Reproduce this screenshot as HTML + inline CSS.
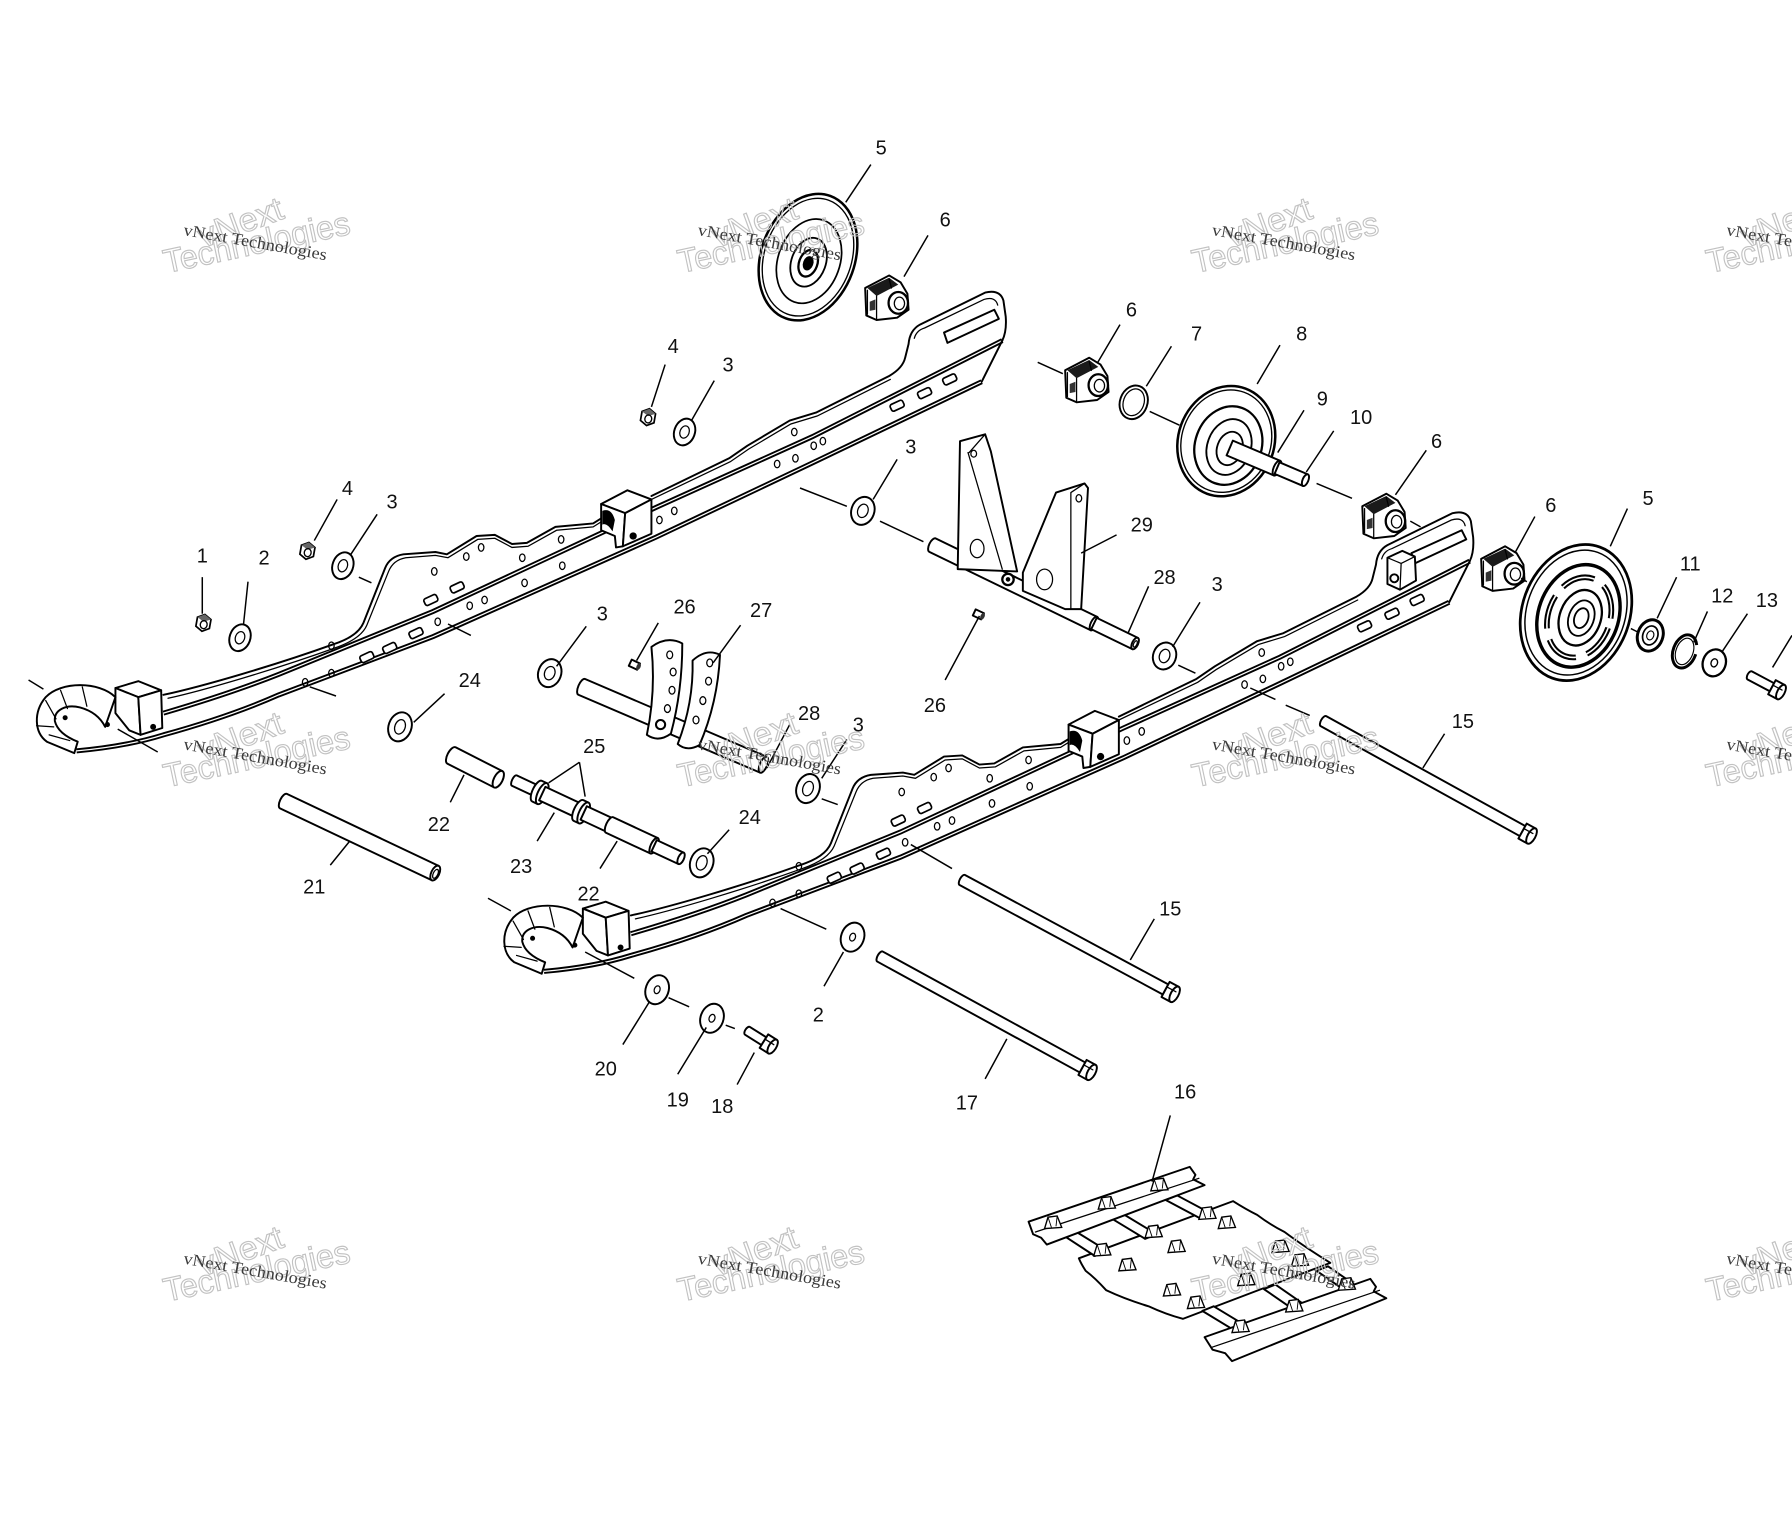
<!DOCTYPE html>
<html><head><meta charset="utf-8">
<style>
html,body{margin:0;padding:0;background:#fff;}
svg{display:block;}
.l{fill:none;stroke:#000;stroke-width:1.7;stroke-linecap:round;stroke-linejoin:round}
.t{fill:none;stroke:#000;stroke-width:1.1;stroke-linecap:round}
.ld{stroke:#000;stroke-width:1.3;fill:none}
.w{fill:#fff;stroke:#000;stroke-width:1.7;stroke-linejoin:round}
.lab{font-family:"Liberation Sans",Arial,sans-serif;font-size:17.5px;fill:#111;text-anchor:middle}
.ws{font-family:"Liberation Serif",serif;font-size:14.5px;fill:#3a3a3a}
.wb{font-family:"Liberation Sans",sans-serif;font-size:29px;fill:none;stroke:#c2c2c2;stroke-width:1}
</style></head><body>
<svg width="1792" height="1536" viewBox="0 0 1568 1344" xmlns="http://www.w3.org/2000/svg">
<rect width="1568" height="1344" fill="#fff"/>
<defs>
<g id="rail">
 <path d="M552,817 Q610,800 653,783 L788,728 L983,637 L1120,575 L1286,491" fill="none" stroke="#000" stroke-width="4.4"/>
 <path d="M552,817 Q610,800 653,783 L788,728 L983,637 L1120,575 L1286,491" fill="none" stroke="#fff" stroke-width="1.1"/>
 <path d="M476,850 Q520,846 552,836 Q610,820 653,801 L788,750 L983,663 L1120,598 L1268,527" fill="none" stroke="#000" stroke-width="4.4"/>
 <path d="M476,850 Q520,846 552,836 Q610,820 653,801 L788,750 L983,663 L1120,598 L1268,527" fill="none" stroke="#fff" stroke-width="1.1"/>
 <path class="l" d="M1286,491 L1268,527"/>
 <path class="l" d="M552,801 C585,794 650,775 700,757 Q722,750 727,738 L746,690 Q750,680 762,678 L790,676 L800,678 L826,662 L842,661 L857,669 L870,668 L895,654 L928,651 L936,646"/>
 <path class="t" d="M556,804 C588,797 652,778 702,760 Q725,752 730,740 L749,693 Q753,683 764,681 L790,679 L801,681 L827,665 L842,664 L857,672 L871,671 L896,657 L928,654 L936,649"/>
 <path class="l" d="M979,627 L1047,594 L1063,583 L1100,561 L1123,554 L1187,522 Q1199,515 1201,506 L1204,494 Q1205,482 1214,477 L1271,449 Q1284,446 1287,456 L1289,470 Q1290,483 1286,491"/>
 <path class="t" d="M979,630 L1048,597 L1064,586 L1101,564 L1124,557 L1188,525"/>
 <path class="l" d="M1235,484 L1279,464 L1283,472 L1238,493 Z"/>
 <path class="t" d="M1209,489 Q1211,482 1218,480 L1270,455 Q1280,452 1282,460"/>
 <g fill="none" stroke="#000" stroke-width="1.1">
  <ellipse cx="699" cy="758" rx="2.4" ry="3.3"/><ellipse cx="676" cy="790" rx="2.4" ry="3.3"/><ellipse cx="699" cy="782" rx="2.4" ry="3.3"/>
  <ellipse cx="789" cy="693" rx="2.4" ry="3.3"/><ellipse cx="817" cy="680" rx="2.4" ry="3.3"/><ellipse cx="830" cy="672" rx="2.4" ry="3.3"/>
  <ellipse cx="866" cy="681" rx="2.4" ry="3.3"/><ellipse cx="900" cy="665" rx="2.4" ry="3.3"/><ellipse cx="901" cy="688" rx="2.4" ry="3.3"/>
  <ellipse cx="868" cy="703" rx="2.4" ry="3.3"/><ellipse cx="833" cy="718" rx="2.4" ry="3.3"/><ellipse cx="820" cy="723" rx="2.4" ry="3.3"/>
  <ellipse cx="792" cy="737" rx="2.4" ry="3.3"/><ellipse cx="986" cy="648" rx="2.4" ry="3.3"/><ellipse cx="999" cy="640" rx="2.4" ry="3.3"/>
  <ellipse cx="1104" cy="571" rx="2.4" ry="3.3"/><ellipse cx="1121" cy="583" rx="2.4" ry="3.3"/><ellipse cx="1129" cy="579" rx="2.4" ry="3.3"/>
  <ellipse cx="1105" cy="594" rx="2.4" ry="3.3"/><ellipse cx="1089" cy="599" rx="2.4" ry="3.3"/>
 </g>
 <g fill="#fff" stroke="#000" stroke-width="1.5">
  <rect x="-6" y="-3.2" width="12" height="6.4" rx="2" transform="translate(730,768) rotate(-25)"/>
  <rect x="-6" y="-3.2" width="12" height="6.4" rx="2" transform="translate(750,760) rotate(-25)"/>
  <rect x="-6" y="-3.2" width="12" height="6.4" rx="2" transform="translate(773,747) rotate(-25)"/>
  <rect x="-6" y="-3.2" width="12" height="6.4" rx="2" transform="translate(786,718) rotate(-25)"/>
  <rect x="-6" y="-3.2" width="12" height="6.4" rx="2" transform="translate(809,707) rotate(-25)"/>
  <rect x="-6" y="-3.2" width="12" height="6.4" rx="2" transform="translate(1194,548) rotate(-25)"/>
  <rect x="-6" y="-3.2" width="12" height="6.4" rx="2" transform="translate(1218,537) rotate(-25)"/>
  <rect x="-6" y="-3.2" width="12" height="6.4" rx="2" transform="translate(1240,525) rotate(-25)"/>
 </g>
 <path class="w" d="M935,634 L958,622 L979,630 L956,642 Z"/>
 <path class="w" d="M935,634 L956,642 L954,671 L948,672 L947,662 L935,657 Z"/>
 <path class="w" d="M956,642 L979,630 L979,660 L954,671 Z"/>
 <path d="M936,640 Q944,637 947,648 L945,658 Q940,650 936,652 Z" fill="#000"/>
 <circle cx="963" cy="662" r="3.2" fill="#000"/>
 <path class="w" d="M510,795 L530,789 L550,797 L530,803 Z"/>
 <path class="w" d="M510,795 L530,803 L532,836 L522,832 L510,817 Z"/>
 <path class="w" d="M530,803 L550,797 L551,830 L532,836 Z"/>
 <circle cx="543" cy="829" r="2.6" fill="#000"/>
 <path class="w" d="M510,803 C496,789 462,789 449,803 C438,816 439,834 450,842 L474,852 L477,842 C467,838 459,832 457,824 C456,814 467,809 479,812 C490,815 497,821 501,829 Z"/>
 <path class="t" d="M462,797 L468,813 M481,794 L485,811 M449,806 L458,822 M441,828 L456,829 M452,836 L470,841"/>
 <circle cx="466" cy="821" r="2.2" fill="#000"/>
 <circle cx="503" cy="827" r="2.2" fill="#000"/>
</g>
<g id="b6">
 <path class="w" d="M3,12 L24,1 L34,7 L40,17 L41,31 L31,38 L13,40 L4,36 Z"/>
 <path d="M5,12 L24,3 L32,9 L13,19 Z" fill="#1a1a1a"/>
 <path class="t" d="M13,19 L13,39 M5,14 L5,35 M24,4 L26,12"/>
 <path d="M7,24 L12,22 L12,31 L7,32 Z" fill="#333"/>
 <ellipse cx="32" cy="25" rx="8.5" ry="9.5" fill="#fff" stroke="#000" stroke-width="2"/>
 <ellipse cx="33" cy="25.5" rx="4.5" ry="5.5" fill="none" stroke="#000" stroke-width="1.1"/>
</g>
<g id="lug">
 <path d="M-7,5 L-4,-5 L4,-6 L8,4 Z" fill="#fff" stroke="#000" stroke-width="1.2"/>
 <path d="M-4,-5 L-1,4 M4,-6 L3,3" stroke="#000" stroke-width="0.8" fill="none"/>
</g>
<g id="nut">
 <polygon points="-6,-4 0,-7.5 6,-4 6,4 0,7.5 -6,4" fill="#fff" stroke="#000" stroke-width="1.5"/>
 <polygon points="-6,-4 0,-7.5 6,-4 0,-1" fill="#666"/>
 <ellipse cx="0.5" cy="1.5" rx="3" ry="3.5" fill="none" stroke="#000" stroke-width="1.2"/>
</g>
</defs>

<!-- Rails -->
<use href="#rail" transform="translate(-409,-193)"/>
<use href="#rail"/>
<!-- rear stud rail B -->
<path class="w" d="M1214,488 L1227,482 L1238,487 L1239,508 L1225,516 L1214,511 Z"/>
<path class="t" d="M1214,488 L1226,493 L1238,487 M1226,493 L1225,516"/>
<circle cx="1220" cy="506" r="3.5" class="w"/>

<!-- Wheel 5 top -->
<g transform="translate(707,225) rotate(20)" fill="none" stroke="#000">
 <ellipse rx="41" ry="57" fill="#fff" stroke-width="2.2"/>
 <ellipse rx="38" ry="53" stroke-width="1.2"/>
 <ellipse cx="2" cy="3" rx="27" ry="38" stroke-width="1.5"/>
 <ellipse cx="2" cy="4" rx="15" ry="22" stroke-width="1.6"/>
 <ellipse cx="2" cy="5" rx="8" ry="12" stroke-width="2"/>
 <ellipse cx="2" cy="5" rx="4" ry="6" fill="#000"/>
</g>
<use href="#b6" x="754" y="240"/>

<!-- Wheel 8 + shaft 9/10 -->
<g transform="translate(1073,386) rotate(20)" fill="none" stroke="#000">
 <ellipse rx="42" ry="49" fill="#fff" stroke-width="2.2"/>
 <ellipse rx="39" ry="45.5" stroke-width="1.2"/>
 <ellipse cx="3" cy="3" rx="29" ry="35" stroke-width="2"/>
 <ellipse cx="4" cy="4" rx="19" ry="25" stroke-width="1.6"/>
 <ellipse cx="5" cy="5" rx="11" ry="15" stroke-width="1.6"/>
</g>
<g transform="translate(1076,392) rotate(23)">
 <path class="w" d="M0,-7 L45,-7 L45,7 L0,7 Z"/>
 <ellipse class="w" cx="45" cy="0" rx="3" ry="7"/>
 <path class="w" d="M45,-5.5 L72,-5.5 L72,5.5 L45,5.5 Z"/>
 <ellipse class="w" cx="72" cy="0" rx="2.5" ry="5.5"/>
</g>
<ellipse class="w" cx="992" cy="352" rx="12" ry="15" transform="rotate(20 992 352)"/>
<ellipse class="t" cx="992" cy="352" rx="9" ry="12" transform="rotate(20 992 352)"/>
<use href="#b6" x="929" y="312"/>
<use href="#b6" x="1189" y="431"/>

<!-- Wheel 5 right -->
<g transform="translate(1379,536) rotate(20)" fill="none" stroke="#000">
 <ellipse rx="47" ry="61" fill="#fff" stroke-width="2.4"/>
 <ellipse rx="43" ry="56" stroke-width="1.3"/>
 <ellipse cx="3" cy="2" rx="35" ry="46" stroke-width="3"/>
 <ellipse cx="4" cy="3" rx="27" ry="36" stroke-width="5" stroke-dasharray="30 10"/>
 <ellipse cx="4" cy="3" rx="27" ry="36" stroke="#fff" stroke-width="1.4" stroke-dasharray="30 10"/>
 <ellipse cx="5" cy="3" rx="18" ry="25" stroke-width="2"/>
 <ellipse cx="6" cy="3" rx="11" ry="16" stroke-width="1.6"/>
 <ellipse cx="6" cy="3" rx="6" ry="9" stroke-width="1.6"/>
</g>
<use href="#b6" x="1293" y="477"/>
<!-- bearing 11, ring 12, washer 13, bolt -->
<g transform="translate(1444,556) rotate(20)">
 <ellipse rx="11" ry="14" fill="#fff" stroke="#000" stroke-width="2.6"/>
 <ellipse rx="6.5" ry="8.5" fill="none" stroke="#000" stroke-width="1.5"/>
 <ellipse rx="3" ry="4" fill="none" stroke="#000" stroke-width="1"/>
</g>
<g transform="translate(1474,570) rotate(20)">
 <ellipse rx="10" ry="15" fill="none" stroke="#000" stroke-width="2.6" stroke-dasharray="70 8"/>
 <ellipse rx="7.5" ry="12" fill="none" stroke="#000" stroke-width="1"/>
</g>
<g transform="translate(1500,580) rotate(20)">
 <ellipse rx="10" ry="12" fill="#fff" stroke="#000" stroke-width="2"/>
 <ellipse rx="2.8" ry="3.6" fill="none" stroke="#000" stroke-width="1.2"/>
</g>
<g transform="translate(1531,591) rotate(28)">
 <path class="w" d="M0,-4 L22,-4 L22,4 L0,4 A2,4 0 0 1 0,-4 Z"/>
 <path class="w" d="M22,-7 L31,-7 L31,7 L22,7 Z"/>
 <ellipse class="w" cx="31" cy="0" rx="3.2" ry="7"/>
 <path class="t" d="M22,-2 L31,-2"/>
</g>

<!-- Part 29 assembly with tube 28 -->
<g transform="translate(816,477) rotate(25.9)">
 <path class="w" d="M0,-6.5 L157,-6.5 L157,6.5 L0,6.5 A3,6.5 0 0 1 0,-6.5 Z"/>
 <ellipse class="w" cx="157" cy="0" rx="2.8" ry="6.5"/>
 <path class="w" d="M157,-5.5 L197,-5.5 L197,5.5 L157,5.5 Z"/>
 <ellipse class="w" cx="197" cy="0" rx="2.6" ry="5.5"/>
 <ellipse class="t" cx="197.3" cy="0.3" rx="1.4" ry="3"/>
</g>
<path class="w" d="M840,386 L862,380 L867,395 L890,500 L838,498 Z"/>
<path class="t" d="M847,396 L877,498 M862,380 L848,396"/>
<ellipse class="t" cx="855" cy="480" rx="6" ry="8"/>
<ellipse class="t" cx="852" cy="397" rx="2.5" ry="3"/>
<path class="w" d="M924,431 L949,423 L952,427 L946,533 L932,533 L895,517 L895,501 Z"/>
<path class="t" d="M937,431 L937,533 M949,423 L937,431"/>
<ellipse class="t" cx="914" cy="507" rx="7" ry="9"/>
<ellipse class="t" cx="944" cy="436" rx="2.5" ry="3.2"/>
<circle cx="882" cy="507" r="5" fill="#fff" stroke="#000" stroke-width="2"/>
<circle cx="882" cy="507" r="2" fill="#000"/>

<!-- Tube 27 with plates -->
<g transform="translate(509,601) rotate(23.2)">
 <path class="w" d="M0,-7.5 L173,-7.5 L173,7.5 L0,7.5 A3,7.5 0 0 1 0,-7.5 Z"/>
 <ellipse class="w" cx="173" cy="0" rx="3.2" ry="7.5"/>
</g>
<path class="w" d="M570,566 Q584,556 597,563 Q597,605 587,642 Q576,650 566,643 Q574,605 570,566 Z"/>
<path class="w" d="M606,578 Q618,567 630,573 Q628,615 612,652 Q601,658 593,651 Q607,615 606,578 Z"/>
<g fill="none" stroke="#000" stroke-width="1.1">
 <ellipse cx="586" cy="573" rx="2.6" ry="3.4"/><ellipse cx="589" cy="588" rx="2.6" ry="3.4"/><ellipse cx="588" cy="604" rx="2.6" ry="3.4"/><ellipse cx="584" cy="620" rx="2.6" ry="3.4"/>
 <ellipse cx="621" cy="580" rx="2.6" ry="3.4"/><ellipse cx="620" cy="596" rx="2.6" ry="3.4"/><ellipse cx="615" cy="613" rx="2.6" ry="3.4"/><ellipse cx="609" cy="630" rx="2.6" ry="3.4"/>
</g>
<circle cx="578" cy="634" r="4" fill="#fff" stroke="#000" stroke-width="1.8"/>

<!-- screws 26 -->
<g transform="translate(556,582) rotate(25)"><path class="w" d="M-5,-3 L3,-3 L3,3 L-5,3 Z" stroke-width="1.3"/><ellipse cx="3" cy="0" rx="1.8" ry="3.2" fill="#333"/></g>
<g transform="translate(857,538) rotate(25)"><path class="w" d="M-5,-3 L3,-3 L3,3 L-5,3 Z" stroke-width="1.3"/><ellipse cx="3" cy="0" rx="1.8" ry="3.2" fill="#333"/></g>

<!-- Tube 21 -->
<g transform="translate(248,701) rotate(25.35)">
 <path class="w" d="M0,-7 L147,-7 L147,7 L0,7 A3,7 0 0 1 0,-7 Z"/>
 <ellipse class="w" cx="147" cy="0" rx="3.5" ry="7"/>
 <ellipse class="t" cx="147.5" cy="0.5" rx="2" ry="4.2"/>
</g>
<!-- Tube 22 upper -->
<g transform="translate(395,661) rotate(27)">
 <path class="w" d="M0,-8 L46,-8 L46,8 L0,8 A3.5,8 0 0 1 0,-8 Z"/>
 <ellipse class="w" cx="46" cy="0" rx="3.8" ry="8"/>
</g>
<!-- Shaft 23 with spacers 25 -->
<g transform="translate(450,683) rotate(25)">
 <path class="w" d="M0,-5 L24,-5 L24,5 L0,5 A2,5 0 0 1 0,-5 Z"/>
 <path class="w" d="M22,-10 L27,-10 L27,10 L22,10 A4,10 0 0 1 22,-10 Z"/>
 <ellipse class="w" cx="27" cy="0" rx="4" ry="10"/>
 <path class="w" d="M27,-6.5 L64,-6.5 L64,6.5 L27,6.5 Z"/>
 <path class="w" d="M62,-10 L67,-10 L67,10 L62,10 A4,10 0 0 1 62,-10 Z"/>
 <ellipse class="w" cx="67" cy="0" rx="4" ry="10"/>
 <path class="w" d="M67,-6.5 L92,-6.5 L92,6.5 L67,6.5 Z"/>
 <path class="w" d="M92,-7.5 L135,-7.5 L135,7.5 L92,7.5 A3,7.5 0 0 1 92,-7.5 Z"/>
 <ellipse class="w" cx="135" cy="0" rx="3" ry="7.5"/>
 <path class="w" d="M135,-5.5 L161,-5.5 L161,5.5 L135,5.5 Z"/>
 <ellipse class="w" cx="161" cy="0" rx="2.5" ry="5.5"/>
</g>

<!-- Tubes 15, 15, 17 -->
<g transform="translate(1158,631) rotate(28.9)">
 <path class="w" d="M0,-5 L199,-5 L199,5 L0,5 A2.2,5 0 0 1 0,-5 Z"/>
 <path class="w" d="M199,-7.5 L208,-7.5 L208,7.5 L199,7.5 Z"/>
 <ellipse class="w" cx="208" cy="0" rx="3.4" ry="7.5"/>
 <path class="t" d="M199,-2.5 L208,-2.5"/>
</g>
<g transform="translate(842,770) rotate(28.3)">
 <path class="w" d="M0,-5 L202,-5 L202,5 L0,5 A2.2,5 0 0 1 0,-5 Z"/>
 <path class="w" d="M202,-7.5 L211,-7.5 L211,7.5 L202,7.5 Z"/>
 <ellipse class="w" cx="211" cy="0" rx="3.4" ry="7.5"/>
 <path class="t" d="M202,-2.5 L211,-2.5"/>
</g>
<g transform="translate(770,837) rotate(28.7)">
 <path class="w" d="M0,-5 L202,-5 L202,5 L0,5 A2.2,5 0 0 1 0,-5 Z"/>
 <path class="w" d="M202,-7.5 L211,-7.5 L211,7.5 L202,7.5 Z"/>
 <ellipse class="w" cx="211" cy="0" rx="3.4" ry="7.5"/>
 <path class="t" d="M202,-2.5 L211,-2.5"/>
</g>
<!-- Bolt 18 -->
<g transform="translate(654,902) rotate(32)">
 <path class="w" d="M0,-4 L17,-4 L17,4 L0,4 A2,4 0 0 1 0,-4 Z"/>
 <path class="w" d="M17,-7 L26,-7 L26,7 L17,7 Z"/>
 <ellipse class="w" cx="26" cy="0" rx="3.2" ry="7"/>
 <path class="t" d="M17,-2 L26,-2"/>
</g>

<!-- Nuts -->
<use href="#nut" transform="translate(178,545) rotate(10)"/>
<use href="#nut" transform="translate(269,482) rotate(10)"/>
<use href="#nut" transform="translate(567,365) rotate(10)"/>

<!-- Washers -->
<g>
 <g transform="translate(210,558) rotate(20)"><ellipse class="w" rx="9" ry="12"/><ellipse class="t" rx="4" ry="5.5"/></g>
 <g transform="translate(300,495) rotate(20)"><ellipse class="w" rx="9" ry="12"/><ellipse class="t" rx="4" ry="5.5"/></g>
 <g transform="translate(599,378) rotate(20)"><ellipse class="w" rx="9" ry="12"/><ellipse class="t" rx="4" ry="5.5"/></g>
 <g transform="translate(755,447) rotate(20)"><ellipse class="w" rx="10" ry="12.5"/><ellipse class="t" rx="4.5" ry="6"/></g>
 <g transform="translate(481,589) rotate(20)"><ellipse class="w" rx="10" ry="12.5"/><ellipse class="t" rx="4.5" ry="6"/></g>
 <g transform="translate(350,636) rotate(20)"><ellipse class="w" rx="10" ry="13"/><ellipse class="t" rx="4.5" ry="6.5"/></g>
 <g transform="translate(1019,574) rotate(20)"><ellipse class="w" rx="10" ry="12"/><ellipse class="t" rx="4.5" ry="6"/></g>
 <g transform="translate(707,690) rotate(20)"><ellipse class="w" rx="10" ry="13"/><ellipse class="t" rx="4.5" ry="6.5"/></g>
 <g transform="translate(614,755) rotate(20)"><ellipse class="w" rx="10" ry="13"/><ellipse class="t" rx="4.5" ry="6.5"/></g>
 <g transform="translate(746,820) rotate(20)"><ellipse class="w" rx="10" ry="13" stroke-width="2.2"/><ellipse class="t" rx="2.5" ry="3.5"/></g>
 <g transform="translate(575,866) rotate(20)"><ellipse class="w" rx="10" ry="13" stroke-width="2.2"/><ellipse class="t" rx="2.5" ry="3.5"/></g>
 <g transform="translate(623,891) rotate(20)"><ellipse class="w" rx="10" ry="13" stroke-width="2.2"/><ellipse class="t" rx="2.5" ry="3.5"/></g>
</g>

<!-- Track 16 -->
<g>
 <path class="w" stroke-width="1.4" d="M944,1101 L1079,1051 Q1090,1058 1100,1063 Q1112,1072 1124,1078 Q1140,1090 1164,1105 L1035,1154 Q1020,1150 1005,1143 Q985,1137 968,1129 Q958,1118 950,1112 Q946,1106 944,1101 Z"/>
 <path class="w" stroke-width="1.2" d="M932,1082 L942,1078 L968,1094 L958,1099 Z"/>
 <path class="w" stroke-width="1.2" d="M974,1067 L984,1063 L1012,1080 L1002,1084 Z"/>
 <path class="w" stroke-width="1.2" d="M1020,1050 L1030,1046 L1060,1062 L1050,1066 Z"/>
 <path class="w" stroke-width="1.2" d="M1052,1147 L1062,1143 L1090,1160 L1080,1164 Z"/>
 <path class="w" stroke-width="1.2" d="M1106,1128 L1116,1124 L1142,1142 L1132,1146 Z"/>
 <path class="w" stroke-width="1.2" d="M1152,1112 L1162,1108 L1188,1126 L1178,1130 Z"/>
 <path class="w" stroke-width="1.5" d="M900,1069 L1041,1021 L1046,1028 L1044,1032 L1054,1037 L916,1089 L911,1083 L904,1080 Z"/>
 <path class="t" d="M906,1078 L1049,1031"/>
 <path class="w" stroke-width="1.5" d="M1054,1170 L1199,1119 L1204,1126 L1202,1130 L1213,1136 L1078,1191 L1072,1184 L1061,1181 Z"/>
 <path class="t" d="M1060,1179 L1207,1129"/>
 <use href="#lug" x="921" y="1070"/><use href="#lug" x="968" y="1053"/><use href="#lug" x="1014" y="1037"/>
 <use href="#lug" x="964" y="1094"/><use href="#lug" x="1009" y="1078"/><use href="#lug" x="1056" y="1062"/>
 <use href="#lug" x="1073" y="1070"/><use href="#lug" x="1029" y="1091"/><use href="#lug" x="986" y="1107"/>
 <use href="#lug" x="1120" y="1091"/><use href="#lug" x="1137" y="1103"/><use href="#lug" x="1090" y="1120"/>
 <use href="#lug" x="1025" y="1129"/><use href="#lug" x="1046" y="1140"/><use href="#lug" x="1085" y="1161"/>
 <use href="#lug" x="1132" y="1143"/><use href="#lug" x="1178" y="1124"/>
</g>

<!-- Hidden-line dashes -->
<g class="ld" stroke-width="1.4">
 <line x1="25" y1="595" x2="38" y2="603"/>
 <line x1="103" y1="638" x2="138" y2="658"/>
 <line x1="271" y1="601" x2="294" y2="609"/>
 <line x1="392" y1="546" x2="412" y2="556"/>
 <line x1="314" y1="505" x2="325" y2="510"/>
 <line x1="700" y1="427" x2="741" y2="443"/>
 <line x1="770" y1="456" x2="808" y2="474"/>
 <line x1="908" y1="317" x2="930" y2="327"/>
 <line x1="1006" y1="360" x2="1032" y2="372"/>
 <line x1="1152" y1="423" x2="1183" y2="436"/>
 <line x1="1234" y1="456" x2="1243" y2="461"/>
 <line x1="1031" y1="582" x2="1046" y2="589"/>
 <line x1="1094" y1="602" x2="1116" y2="612"/>
 <line x1="1125" y1="617" x2="1146" y2="626"/>
 <line x1="797" y1="739" x2="833" y2="760"/>
 <line x1="683" y1="795" x2="723" y2="813"/>
 <line x1="427" y1="786" x2="447" y2="797"/>
 <line x1="512" y1="833" x2="555" y2="856"/>
 <line x1="585" y1="873" x2="603" y2="881"/>
 <line x1="635" y1="897" x2="643" y2="900"/>
 <line x1="719" y1="699" x2="733" y2="704"/>
 <line x1="1331" y1="506" x2="1336" y2="509"/>
 <line x1="1427" y1="550" x2="1433" y2="553"/>
</g>

<!-- Leader lines -->
<g class="ld">
 <line x1="177" y1="505" x2="177" y2="537"/>
 <line x1="217" y1="509" x2="213" y2="547"/>
 <line x1="295" y1="437" x2="275" y2="473"/>
 <line x1="330" y1="450" x2="307" y2="485"/>
 <line x1="582" y1="319" x2="570" y2="356"/>
 <line x1="625" y1="333" x2="605" y2="368"/>
 <line x1="762" y1="144" x2="740" y2="177"/>
 <line x1="812" y1="206" x2="791" y2="242"/>
 <line x1="980" y1="284" x2="960" y2="318"/>
 <line x1="1025" y1="303" x2="1003" y2="338"/>
 <line x1="1120" y1="302" x2="1100" y2="336"/>
 <line x1="1141" y1="359" x2="1118" y2="396"/>
 <line x1="1167" y1="377" x2="1143" y2="413"/>
 <line x1="785" y1="402" x2="764" y2="437"/>
 <line x1="1248" y1="394" x2="1221" y2="433"/>
 <line x1="1343" y1="452" x2="1326" y2="483"/>
 <line x1="1424" y1="445" x2="1409" y2="478"/>
 <line x1="1467" y1="505" x2="1450" y2="541"/>
 <line x1="1494" y1="535" x2="1482" y2="562"/>
 <line x1="1529" y1="537" x2="1507" y2="570"/>
 <line x1="1568" y1="556" x2="1551" y2="584"/>
 <line x1="977" y1="468" x2="946" y2="484"/>
 <line x1="1005" y1="513" x2="987" y2="554"/>
 <line x1="1050" y1="527" x2="1026" y2="566"/>
 <line x1="827" y1="595" x2="857" y2="539"/>
 <line x1="513" y1="548" x2="487" y2="583"/>
 <line x1="576" y1="545" x2="557" y2="578"/>
 <line x1="648" y1="547" x2="624" y2="580"/>
 <line x1="389" y1="607" x2="362" y2="632"/>
 <line x1="1264" y1="642" x2="1245" y2="672"/>
 <line x1="691" y1="634" x2="671" y2="672"/>
 <line x1="741" y1="647" x2="719" y2="681"/>
 <line x1="507" y1="667" x2="480" y2="685"/>
 <line x1="507" y1="667" x2="512" y2="697"/>
 <line x1="394" y1="702" x2="406" y2="678"/>
 <line x1="638" y1="726" x2="619" y2="747"/>
 <line x1="289" y1="757" x2="306" y2="736"/>
 <line x1="470" y1="736" x2="485" y2="711"/>
 <line x1="525" y1="760" x2="540" y2="736"/>
 <line x1="1010" y1="804" x2="989" y2="840"/>
 <line x1="721" y1="863" x2="738" y2="833"/>
 <line x1="862" y1="944" x2="881" y2="909"/>
 <line x1="1024" y1="976" x2="1008" y2="1034"/>
 <line x1="545" y1="914" x2="568" y2="877"/>
 <line x1="593" y1="940" x2="618" y2="899"/>
 <line x1="645" y1="949" x2="660" y2="921"/>
</g>

<!-- Labels -->
<g class="lab">
 <text x="771" y="135">5</text>
 <text x="827" y="198">6</text>
 <text x="589" y="309">4</text>
 <text x="637" y="325">3</text>
 <text x="990" y="277">6</text>
 <text x="1047" y="298">7</text>
 <text x="1139" y="298">8</text>
 <text x="1157" y="355">9</text>
 <text x="1191" y="371">10</text>
 <text x="797" y="397">3</text>
 <text x="1257" y="392">6</text>
 <text x="1357" y="448">6</text>
 <text x="1442" y="442">5</text>
 <text x="1479" y="499">11</text>
 <text x="1507" y="527">12</text>
 <text x="1546" y="531">13</text>
 <text x="999" y="465">29</text>
 <text x="1019" y="511">28</text>
 <text x="1065" y="517">3</text>
 <text x="304" y="433">4</text>
 <text x="343" y="445">3</text>
 <text x="177" y="492">1</text>
 <text x="231" y="494">2</text>
 <text x="818" y="623">26</text>
 <text x="527" y="543">3</text>
 <text x="599" y="537">26</text>
 <text x="666" y="540">27</text>
 <text x="411" y="601">24</text>
 <text x="1280" y="637">15</text>
 <text x="708" y="630">28</text>
 <text x="751" y="640">3</text>
 <text x="520" y="659">25</text>
 <text x="384" y="727">22</text>
 <text x="656" y="721">24</text>
 <text x="275" y="782">21</text>
 <text x="456" y="764">23</text>
 <text x="515" y="788">22</text>
 <text x="1024" y="801">15</text>
 <text x="716" y="894">2</text>
 <text x="846" y="971">17</text>
 <text x="1037" y="961">16</text>
 <text x="530" y="941">20</text>
 <text x="593" y="968">19</text>
 <text x="632" y="974">18</text>
</g>

<!-- Watermarks -->
<g>
 <text class="wb" x="145.4" y="239" transform="rotate(-12 145.4 239)" textLength="166" lengthAdjust="spacingAndGlyphs">Technologies</text>
 <text class="wb" x="177.6" y="217" transform="rotate(-20 177.6 217)" textLength="77" lengthAdjust="spacingAndGlyphs">vNext</text>
 <text class="ws" x="160" y="205.6" transform="rotate(10 160 205.6)" textLength="127" lengthAdjust="spacingAndGlyphs">vNext Technologies</text>

 <text class="wb" x="595.4" y="239" transform="rotate(-12 595.4 239)" textLength="166" lengthAdjust="spacingAndGlyphs">Technologies</text>
 <text class="wb" x="627.6" y="217" transform="rotate(-20 627.6 217)" textLength="77" lengthAdjust="spacingAndGlyphs">vNext</text>
 <text class="ws" x="610" y="205.6" transform="rotate(10 610 205.6)" textLength="127" lengthAdjust="spacingAndGlyphs">vNext Technologies</text>

 <text class="wb" x="1045.4" y="239" transform="rotate(-12 1045.4 239)" textLength="166" lengthAdjust="spacingAndGlyphs">Technologies</text>
 <text class="wb" x="1077.6" y="217" transform="rotate(-20 1077.6 217)" textLength="77" lengthAdjust="spacingAndGlyphs">vNext</text>
 <text class="ws" x="1060" y="205.6" transform="rotate(10 1060 205.6)" textLength="127" lengthAdjust="spacingAndGlyphs">vNext Technologies</text>

 <text class="wb" x="1495.4" y="239" transform="rotate(-12 1495.4 239)" textLength="166" lengthAdjust="spacingAndGlyphs">Technologies</text>
 <text class="wb" x="1527.6" y="217" transform="rotate(-20 1527.6 217)" textLength="77" lengthAdjust="spacingAndGlyphs">vNext</text>
 <text class="ws" x="1510" y="205.6" transform="rotate(10 1510 205.6)" textLength="127" lengthAdjust="spacingAndGlyphs">vNext Technologies</text>

 <text class="wb" x="145.4" y="689" transform="rotate(-12 145.4 689)" textLength="166" lengthAdjust="spacingAndGlyphs">Technologies</text>
 <text class="wb" x="177.6" y="667" transform="rotate(-20 177.6 667)" textLength="77" lengthAdjust="spacingAndGlyphs">vNext</text>
 <text class="ws" x="160" y="655.6" transform="rotate(10 160 655.6)" textLength="127" lengthAdjust="spacingAndGlyphs">vNext Technologies</text>

 <text class="wb" x="595.4" y="689" transform="rotate(-12 595.4 689)" textLength="166" lengthAdjust="spacingAndGlyphs">Technologies</text>
 <text class="wb" x="627.6" y="667" transform="rotate(-20 627.6 667)" textLength="77" lengthAdjust="spacingAndGlyphs">vNext</text>
 <text class="ws" x="610" y="655.6" transform="rotate(10 610 655.6)" textLength="127" lengthAdjust="spacingAndGlyphs">vNext Technologies</text>

 <text class="wb" x="1045.4" y="689" transform="rotate(-12 1045.4 689)" textLength="166" lengthAdjust="spacingAndGlyphs">Technologies</text>
 <text class="wb" x="1077.6" y="667" transform="rotate(-20 1077.6 667)" textLength="77" lengthAdjust="spacingAndGlyphs">vNext</text>
 <text class="ws" x="1060" y="655.6" transform="rotate(10 1060 655.6)" textLength="127" lengthAdjust="spacingAndGlyphs">vNext Technologies</text>

 <text class="wb" x="1495.4" y="689" transform="rotate(-12 1495.4 689)" textLength="166" lengthAdjust="spacingAndGlyphs">Technologies</text>
 <text class="wb" x="1527.6" y="667" transform="rotate(-20 1527.6 667)" textLength="77" lengthAdjust="spacingAndGlyphs">vNext</text>
 <text class="ws" x="1510" y="655.6" transform="rotate(10 1510 655.6)" textLength="127" lengthAdjust="spacingAndGlyphs">vNext Technologies</text>

 <text class="wb" x="145.4" y="1139" transform="rotate(-12 145.4 1139)" textLength="166" lengthAdjust="spacingAndGlyphs">Technologies</text>
 <text class="wb" x="177.6" y="1117" transform="rotate(-20 177.6 1117)" textLength="77" lengthAdjust="spacingAndGlyphs">vNext</text>
 <text class="ws" x="160" y="1105.6" transform="rotate(10 160 1105.6)" textLength="127" lengthAdjust="spacingAndGlyphs">vNext Technologies</text>

 <text class="wb" x="595.4" y="1139" transform="rotate(-12 595.4 1139)" textLength="166" lengthAdjust="spacingAndGlyphs">Technologies</text>
 <text class="wb" x="627.6" y="1117" transform="rotate(-20 627.6 1117)" textLength="77" lengthAdjust="spacingAndGlyphs">vNext</text>
 <text class="ws" x="610" y="1105.6" transform="rotate(10 610 1105.6)" textLength="127" lengthAdjust="spacingAndGlyphs">vNext Technologies</text>

 <text class="wb" x="1045.4" y="1139" transform="rotate(-12 1045.4 1139)" textLength="166" lengthAdjust="spacingAndGlyphs">Technologies</text>
 <text class="wb" x="1077.6" y="1117" transform="rotate(-20 1077.6 1117)" textLength="77" lengthAdjust="spacingAndGlyphs">vNext</text>
 <text class="ws" x="1060" y="1105.6" transform="rotate(10 1060 1105.6)" textLength="127" lengthAdjust="spacingAndGlyphs">vNext Technologies</text>

 <text class="wb" x="1495.4" y="1139" transform="rotate(-12 1495.4 1139)" textLength="166" lengthAdjust="spacingAndGlyphs">Technologies</text>
 <text class="wb" x="1527.6" y="1117" transform="rotate(-20 1527.6 1117)" textLength="77" lengthAdjust="spacingAndGlyphs">vNext</text>
 <text class="ws" x="1510" y="1105.6" transform="rotate(10 1510 1105.6)" textLength="127" lengthAdjust="spacingAndGlyphs">vNext Technologies</text>
</g>
</svg>
</body></html>
